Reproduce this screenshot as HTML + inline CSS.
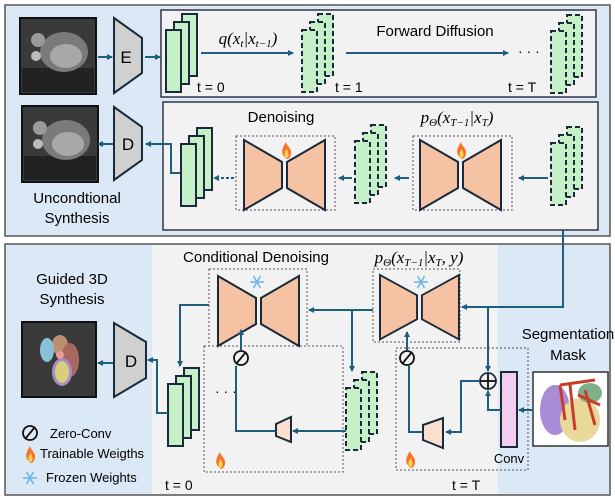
<!DOCTYPE html>
<html><head><meta charset="utf-8"><style>
html,body{margin:0;padding:0;background:#fff;}
svg{display:block;font-family:"Liberation Sans",sans-serif;}
.m{font-family:"Liberation Serif",serif;font-style:italic;}
</style></head><body>
<svg width="615" height="498" viewBox="0 0 615 498" xmlns="http://www.w3.org/2000/svg">
<defs>
<marker id="ar" markerWidth="6" markerHeight="6" refX="5" refY="3" orient="auto" markerUnits="userSpaceOnUse"><path d="M0,0 L6,3 L0,6 z" fill="#1d5d7e"/></marker>
<g id="ss">
<rect x="16" y="0" width="15" height="62" fill="#c6f0c8" stroke="#1a2a3a" stroke-width="2"/>
<rect x="8" y="8" width="15" height="62" fill="#c6f0c8" stroke="#1a2a3a" stroke-width="2"/>
<rect x="0" y="16" width="15" height="62" fill="#c6f0c8" stroke="#1a2a3a" stroke-width="2"/>
</g>
<g id="ds">
<rect x="16" y="0" width="15" height="62" fill="#c6f0c8" stroke="#1a2a3a" stroke-width="2" stroke-dasharray="5,3"/>
<rect x="8" y="8" width="15" height="62" fill="#c6f0c8" stroke="#1a2a3a" stroke-width="2" stroke-dasharray="5,3"/>
<rect x="0" y="16" width="15" height="62" fill="#c6f0c8" stroke="#1a2a3a" stroke-width="2" stroke-dasharray="5,3"/>
</g>
<g id="un">
<polygon points="0,0 38,22 38,48 0,70" fill="#f6c2a4" stroke="#1a2a3a" stroke-width="2"/>
<polygon points="43,22 81,0 81,70 43,48" fill="#f6c2a4" stroke="#1a2a3a" stroke-width="2"/>
</g>
<g id="img">
<rect x="0" y="0" width="76" height="76" fill="#3a3a3a" stroke="#111" stroke-width="2"/>
<rect x="2" y="50" width="72" height="24" fill="#222"/>
<ellipse cx="44" cy="34" rx="24" ry="20" fill="#7a7a7a"/>
<ellipse cx="46" cy="38" rx="16" ry="12" fill="#a8a8a8"/>
<circle cx="18" cy="22" r="7" fill="#9a9a9a"/>
<circle cx="16" cy="38" r="5" fill="#bbb"/>
</g>
<g id="fl"><path d="M0,8 C-6,4 -4,-2 0,-8 C1,-3 6,-2 5,4 C4,9 0,10 0,8z" fill="#f5732a"/><path d="M0,8 C-3,5 -1,1 1,-1 C2,3 4,5 1,8z" fill="#fcd34d"/></g>
<g id="sn" stroke="#6fb7ea" stroke-width="1.6"><line x1="-7" y1="0" x2="7" y2="0"/><line x1="-3.5" y1="-6" x2="3.5" y2="6"/><line x1="-3.5" y1="6" x2="3.5" y2="-6"/></g>
</defs>

<rect x="5" y="5" width="605" height="231" fill="#dbe8f5" stroke="#555" stroke-width="1.5"/>
<rect x="161" y="10" width="435" height="87" fill="#f2f2f2" stroke="#334" stroke-width="1.5"/>
<rect x="163" y="102" width="435" height="128" fill="#f2f2f2" stroke="#334" stroke-width="1.5"/>

<use href="#img" x="20" y="18"/>
<polygon points="114,18 142,38 142,73 114,93" fill="#d0d0d0" stroke="#1a2a3a" stroke-width="2"/>
<text x="126" y="63" font-size="17" text-anchor="middle">E</text>
<line x1="98" y1="57" x2="112" y2="57" stroke="#1d5d7e" stroke-width="2" marker-end="url(#ar)"/>
<line x1="145" y1="57" x2="160" y2="57" stroke="#1d5d7e" stroke-width="2" marker-end="url(#ar)"/>
<use href="#ss" x="166" y="14"/>
<text x="197" y="92" font-size="14">t = 0</text>
<text x="248" y="44" font-size="17" text-anchor="middle" class="m">q(x<tspan font-size="11" dy="3">t</tspan><tspan dy="-3">|x</tspan><tspan font-size="11" dy="3">t−1</tspan><tspan dy="-3">)</tspan></text>
<line x1="201" y1="53" x2="293" y2="53" stroke="#1d5d7e" stroke-width="2" marker-end="url(#ar)"/>
<use href="#ds" x="302" y="14"/>
<text x="335" y="92" font-size="14">t = 1</text>
<text x="435" y="36" font-size="15" text-anchor="middle">Forward Diffusion</text>
<line x1="346" y1="53" x2="508" y2="53" stroke="#1d5d7e" stroke-width="2" marker-end="url(#ar)"/>
<text x="518" y="56" font-size="14">· · ·</text>
<use href="#ds" x="551" y="15"/>
<text x="508" y="92" font-size="14">t = T</text>

<use href="#img" x="22" y="106"/>
<polygon points="114,107 142,127 142,160 114,180" fill="#d0d0d0" stroke="#1a2a3a" stroke-width="2"/>
<text x="128" y="150" font-size="17" text-anchor="middle">D</text>
<line x1="113" y1="144" x2="98" y2="144" stroke="#1d5d7e" stroke-width="2" marker-end="url(#ar)"/>
<text x="77" y="203" font-size="15" text-anchor="middle">Uncondtional</text>
<text x="77" y="223" font-size="15" text-anchor="middle">Synthesis</text>

<text x="281" y="122" font-size="15" text-anchor="middle">Denoising</text>
<text x="457" y="123" font-size="17" text-anchor="middle" class="m">p<tspan font-size="11" dy="3">Θ</tspan><tspan dy="-3">(x</tspan><tspan font-size="11" dy="3">T−1</tspan><tspan dy="-3">|x</tspan><tspan font-size="11" dy="3">T</tspan><tspan dy="-3">)</tspan></text>
<rect x="236" y="136" width="99" height="74" fill="none" stroke="#555" stroke-width="1" stroke-dasharray="2,2"/>
<use href="#un" x="244" y="140"/>
<use href="#fl" x="286" y="150"/>
<rect x="413" y="136" width="99" height="74" fill="none" stroke="#555" stroke-width="1" stroke-dasharray="2,2"/>
<use href="#un" x="420" y="140"/>
<use href="#fl" x="461" y="150"/>
<use href="#ss" x="181" y="128"/>
<use href="#ds" x="355" y="125"/>
<use href="#ds" x="551" y="127"/>
<line x1="548" y1="178" x2="519" y2="178" stroke="#1d5d7e" stroke-width="2" marker-end="url(#ar)"/>
<line x1="409" y1="178" x2="395" y2="178" stroke="#1d5d7e" stroke-width="2" marker-end="url(#ar)"/>
<line x1="352" y1="178" x2="339" y2="178" stroke="#1d5d7e" stroke-width="2" marker-end="url(#ar)"/>
<line x1="234" y1="178" x2="214" y2="178" stroke="#1d5d7e" stroke-width="2" stroke-dasharray="3,2" marker-end="url(#ar)"/>
<polyline points="180,173 171,173 171,144 146,144" fill="none" stroke="#1d5d7e" stroke-width="2" marker-end="url(#ar)"/>

<rect x="5" y="244" width="605" height="251" fill="#dbe8f5" stroke="#555" stroke-width="1.5"/>
<rect x="152" y="245" width="346" height="249" fill="#f2f2f2"/>

<text x="72" y="284" font-size="15" text-anchor="middle">Guided 3D</text>
<text x="72" y="304" font-size="15" text-anchor="middle">Synthesis</text>
<rect x="22" y="322" width="74" height="75" fill="#3a3a3a" stroke="#111" stroke-width="2"/>
<ellipse cx="60" cy="345" rx="8" ry="10" fill="#c99a77" opacity=".9"/>
<ellipse cx="47" cy="350" rx="7" ry="12" fill="#86c1d8"/>
<ellipse cx="70" cy="360" rx="9" ry="17" fill="#a9685f"/>
<ellipse cx="62" cy="372" rx="10" ry="14" fill="#a98cc7"/>
<ellipse cx="62" cy="372" rx="7" ry="11" fill="#d7cf7a"/>
<circle cx="60" cy="355" r="4" fill="#e99a9a"/>
<polygon points="114,323 146,342 146,378 114,397" fill="#d0d0d0" stroke="#1a2a3a" stroke-width="2"/>
<text x="131" y="367" font-size="17" text-anchor="middle">D</text>
<line x1="113" y1="363" x2="98" y2="363" stroke="#1d5d7e" stroke-width="2" marker-end="url(#ar)"/>

<text x="256" y="262" font-size="15" text-anchor="middle">Conditional Denoising</text>
<text x="419" y="263" font-size="17" text-anchor="middle" class="m">p<tspan font-size="11" dy="3">Θ</tspan><tspan dy="-3">(x</tspan><tspan font-size="11" dy="3">T−1</tspan><tspan dy="-3">|x</tspan><tspan font-size="11" dy="3">T</tspan><tspan dy="-3">, y)</tspan></text>

<rect x="209" y="269" width="98" height="77" fill="none" stroke="#555" stroke-width="1" stroke-dasharray="2,2"/>
<use href="#un" x="218" y="276"/>
<use href="#sn" x="257" y="282"/>
<rect x="373" y="269" width="87" height="73" fill="none" stroke="#555" stroke-width="1" stroke-dasharray="2,2"/>
<g transform="translate(380,275) scale(0.975,0.92)"><use href="#un"/></g>
<use href="#sn" x="421" y="282"/>
<rect x="204" y="346" width="139" height="126" fill="none" stroke="#555" stroke-width="1" stroke-dasharray="2,2"/>
<rect x="396" y="348" width="132" height="122" fill="none" stroke="#555" stroke-width="1" stroke-dasharray="2,2"/>

<use href="#ss" x="168" y="368"/>
<use href="#ds" x="346" y="372"/>
<polygon points="276,424 291,417 291,442 276,436" fill="#fbe0d0" stroke="#1a2a3a" stroke-width="2"/>
<polygon points="423,425 443,418 443,448 423,440" fill="#fbe0d0" stroke="#1a2a3a" stroke-width="2"/>
<text x="215" y="396" font-size="14">· · ·</text>

<g stroke="#111" stroke-width="1.8" fill="none">
<circle cx="241" cy="358" r="7"/><line x1="236" y1="364" x2="246" y2="352"/>
<circle cx="407" cy="358" r="7"/><line x1="402" y1="364" x2="412" y2="352"/>
<circle cx="30" cy="433" r="7"/><line x1="25" y1="439" x2="35" y2="427"/>
<circle cx="488" cy="381" r="8" stroke="#1a2a3a"/><line x1="480" y1="381" x2="496" y2="381"/><line x1="488" y1="373" x2="488" y2="389"/>
</g>
<rect x="501" y="372" width="16" height="75" fill="#f2cdef" stroke="#1a2a3a" stroke-width="2"/>
<text x="509" y="463" font-size="13" text-anchor="middle">Conv</text>
<text x="568" y="339" font-size="15" text-anchor="middle">Segmentation</text>
<text x="568" y="360" font-size="15" text-anchor="middle">Mask</text>
<rect x="533" y="372" width="75" height="74" fill="#fff" stroke="#333" stroke-width="1.5"/>
<ellipse cx="555" cy="410" rx="15" ry="25" fill="#a98cd6"/>
<ellipse cx="580" cy="420" rx="20" ry="22" fill="#e8d89a"/>
<ellipse cx="590" cy="393" rx="12" ry="10" fill="#7fb08a"/>
<path d="M560,385 L595,380 M570,385 L575,430 M585,390 L595,425 M560,385 L565,420 M578,395 L600,405" stroke="#c63d2a" stroke-width="3" fill="none"/>

<g stroke="#1d5d7e" stroke-width="2" fill="none">
<polyline points="563,230 563,307 476,307 462,307" marker-end="url(#ar)"/>
<polyline points="488,307 488,371" marker-end="url(#ar)"/>
<polyline points="480,381 461,381 461,432 446,432" marker-end="url(#ar)"/>
<polyline points="423,432 409,432 409,366"/>
<polyline points="407,350 407,332" marker-end="url(#ar)"/>
<polyline points="533,410 519,410" marker-end="url(#ar)"/>
<polyline points="501,410 488,410 488,391" marker-end="url(#ar)"/>
<polyline points="373,310 309,310" marker-end="url(#ar)"/>
<polyline points="352,310 352,371" marker-end="url(#ar)"/>
<polyline points="346,431 293,431" marker-end="url(#ar)"/>
<polyline points="276,431 236,431 236,366"/>
<polyline points="241,350 241,330" marker-end="url(#ar)"/>
<polyline points="209,305 180,305 180,366" marker-end="url(#ar)"/>
<polyline points="168,413 157,413 157,360 148,360" marker-end="url(#ar)"/>
</g>

<use href="#fl" x="30" y="454"/>
<use href="#sn" x="30" y="478"/>
<text x="50" y="438" font-size="13">Zero-Conv</text>
<text x="40" y="458" font-size="13">Trainable Weigths</text>
<text x="46" y="482" font-size="13">Frozen Weights</text>
<use href="#fl" x="220" y="460"/>
<use href="#fl" x="410" y="459"/>
<text x="165" y="490" font-size="14">t = 0</text>
<text x="452" y="490" font-size="14">t = T</text>
</svg>
</body></html>
